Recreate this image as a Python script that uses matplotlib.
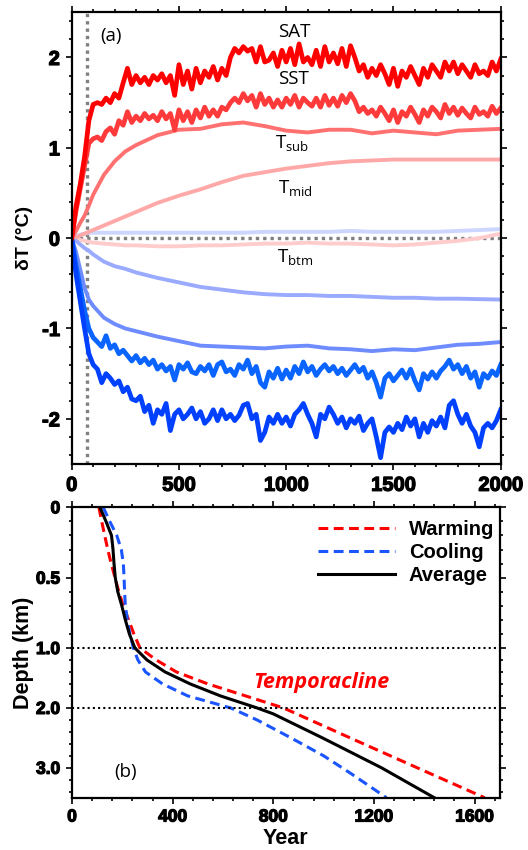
import numpy as np
import matplotlib
matplotlib.use("Agg")
import matplotlib.pyplot as plt
import matplotlib.patheffects as pe
from matplotlib.ticker import MultipleLocator, FixedLocator

plt.rcParams['font.family'] = ['Liberation Sans', 'DejaVu Sans']

# ---------------- data: panel (a) ----------------
years = list(range(0, 2001, 20))
years_s = [0, 20, 40, 60, 80, 100, 150, 200, 250, 300, 400, 500, 600, 700, 800,
           900, 1000, 1100, 1200, 1300, 1400, 1500, 1600, 1700, 1800, 1900, 2000]

sat_warm = [0, 0.35, 0.6, 0.9, 1.3, 1.48, 1.5, 1.48, 1.55, 1.5, 1.6, 1.55, 1.72, 1.88, 1.7,
            1.8, 1.72, 1.78, 1.7, 1.8, 1.75, 1.82, 1.72, 1.8, 1.58, 1.92, 1.7, 1.85, 1.65,
            1.88, 1.72, 1.85, 1.78, 1.9, 1.75, 1.88, 1.8, 2.0, 2.1, 2.05, 2.12, 2.07, 2.1,
            1.95, 2.12, 1.95, 1.97, 2.05, 1.9, 2.08, 1.95, 2.1, 1.92, 2.15, 1.95, 2.0, 1.92,
            2.08, 1.9, 2.12, 1.95, 2.05, 1.93, 2.1, 1.9, 2.13, 2.0, 1.85, 1.92, 1.78, 1.88,
            1.8, 1.92, 1.82, 1.7, 1.88, 1.68, 1.85, 1.78, 1.9, 1.8, 1.7, 1.88, 1.78, 1.92,
            1.85, 1.78, 1.95, 1.85, 1.95, 1.82, 1.92, 1.85, 1.78, 1.92, 1.82, 1.85, 1.8,
            1.95, 1.85, 1.98]
sst_warm = [0, 0.3, 0.55, 0.8, 1.05, 1.1, 1.12, 1.08, 1.18, 1.22, 1.15, 1.3, 1.25, 1.4, 1.28,
            1.35, 1.3, 1.38, 1.32, 1.36, 1.3, 1.4, 1.32, 1.38, 1.2, 1.42, 1.3, 1.4, 1.28,
            1.42, 1.33, 1.45, 1.35, 1.42, 1.35, 1.45, 1.42, 1.5, 1.55, 1.5, 1.6, 1.52, 1.58,
            1.45, 1.6, 1.48, 1.55, 1.45, 1.53, 1.45, 1.55, 1.48, 1.58, 1.45, 1.55, 1.5, 1.46,
            1.55, 1.45, 1.58, 1.47, 1.55, 1.46, 1.58, 1.5, 1.6, 1.52, 1.4, 1.45, 1.38, 1.42,
            1.35, 1.45, 1.38, 1.3, 1.42, 1.28, 1.4, 1.35, 1.45, 1.37, 1.28, 1.42, 1.35, 1.45,
            1.4, 1.33, 1.48, 1.38, 1.45, 1.36, 1.44, 1.38, 1.33, 1.45, 1.37, 1.4, 1.35, 1.46,
            1.38, 1.44]
sst_cool = [0, -0.3, -0.55, -0.8, -1.0, -1.1, -1.15, -1.2, -1.08, -1.22, -1.18, -1.28, -1.24,
            -1.3, -1.36, -1.3, -1.38, -1.33, -1.4, -1.35, -1.45, -1.4, -1.47, -1.42, -1.57,
            -1.4, -1.45, -1.38, -1.48, -1.5, -1.42, -1.47, -1.4, -1.52, -1.4, -1.37, -1.48,
            -1.45, -1.52, -1.4, -1.45, -1.35, -1.5, -1.42, -1.6, -1.65, -1.48, -1.55, -1.44,
            -1.56, -1.46, -1.55, -1.42, -1.5, -1.37, -1.48, -1.42, -1.52, -1.45, -1.4, -1.47,
            -1.42, -1.5, -1.44, -1.52, -1.46, -1.4, -1.48, -1.43, -1.55, -1.48, -1.6, -1.76,
            -1.55, -1.5, -1.58, -1.52, -1.46, -1.55, -1.45, -1.58, -1.68, -1.5, -1.56, -1.48,
            -1.55, -1.47, -1.42, -1.35, -1.45, -1.4, -1.5, -1.42, -1.55, -1.48, -1.65, -1.5,
            -1.55, -1.47, -1.52, -1.4]
sat_cool = [0, -0.4, -0.7, -1.0, -1.28, -1.4, -1.45, -1.6, -1.5, -1.55, -1.62, -1.58, -1.7,
            -1.65, -1.78, -1.8, -1.75, -1.92, -1.85, -2.05, -1.9, -1.95, -1.83, -2.13, -1.95,
            -1.9, -2.0, -1.95, -1.88, -2.0, -1.92, -2.05, -2.0, -1.9, -2.02, -1.9, -2.0, -1.95,
            -2.02, -1.96, -1.85, -1.83, -2.0, -1.95, -2.24, -2.15, -1.98, -2.05, -1.95, -2.05,
            -1.98, -2.08, -1.95, -1.9, -1.83, -1.95, -2.05, -2.2, -1.95, -2.0, -1.87, -1.95,
            -2.05, -1.98, -2.1, -2.0, -2.05, -1.97, -2.13, -2.05, -2.0, -2.2, -2.43, -2.15,
            -2.09, -2.15, -2.05, -2.12, -1.98, -2.08, -2.0, -2.2, -2.05, -2.15, -2.02, -2.08,
            -1.98, -2.1, -1.85, -1.8, -1.95, -2.05, -1.95, -2.08, -2.15, -2.31, -2.1, -2.05,
            -2.1, -2.02, -1.9]

tsub_warm = [0, 0.08, 0.17, 0.25, 0.36, 0.48, 0.7, 0.85, 0.96, 1.03, 1.14, 1.2, 1.21, 1.26, 1.28,
             1.24, 1.19, 1.17, 1.2, 1.2, 1.16, 1.19, 1.17, 1.15, 1.19, 1.2, 1.21]
tmid_warm = [0, 0.01, 0.03, 0.05, 0.07, 0.09, 0.14, 0.19, 0.24, 0.29, 0.39, 0.47, 0.54, 0.62,
             0.69, 0.73, 0.77, 0.8, 0.83, 0.85, 0.86, 0.87, 0.87, 0.87, 0.87, 0.87, 0.87]
tbtm_warm = [0, -0.01, -0.02, -0.03, -0.04, -0.05, -0.06, -0.07, -0.08, -0.08, -0.09, -0.09,
             -0.08, -0.08, -0.07, -0.06, -0.06, -0.05, -0.06, -0.06, -0.07, -0.08, -0.07,
             -0.05, -0.03, 0.0, 0.05]
tbtm_cool = [0, 0.02, 0.04, 0.05, 0.06, 0.06, 0.06, 0.06, 0.06, 0.06, 0.06, 0.06, 0.06, 0.06,
             0.06, 0.07, 0.07, 0.07, 0.07, 0.08, 0.07, 0.07, 0.07, 0.07, 0.08, 0.09, 0.1]
tmid_cool = [0, -0.03, -0.07, -0.11, -0.14, -0.18, -0.26, -0.31, -0.34, -0.38, -0.44, -0.49,
             -0.54, -0.57, -0.6, -0.62, -0.63, -0.63, -0.64, -0.64, -0.65, -0.66, -0.66, -0.67,
             -0.67, -0.675, -0.68]
tsub_cool = [0, -0.15, -0.35, -0.55, -0.68, -0.75, -0.88, -0.95, -1.0, -1.03, -1.09, -1.14,
             -1.19, -1.2, -1.21, -1.22, -1.2, -1.19, -1.22, -1.23, -1.25, -1.23, -1.24, -1.21,
             -1.18, -1.17, -1.15]

spinup_year = 72
a_labels = ["SAT", "SST", "T$_\\mathregular{sub}$", "T$_\\mathregular{mid}$", "T$_\\mathregular{btm}$"]
a_label_pos = [(960, 2.28), (960, 1.76), (950, 1.04), (960, 0.55), (955, -0.22)]

# ---------------- data: panel (b) ----------------
depth_w = [0, 0.1, 0.2, 0.3, 0.4, 0.5, 0.6, 0.7, 0.8, 0.9, 1.0, 1.2, 1.4, 1.6, 1.8, 2.0, 2.5, 3.0, 3.5]
year_w = [107, 118, 130, 142, 156, 171, 186, 204, 225, 246, 270, 335, 415, 540, 690, 840, 1105, 1372, 1640]
depth_c = [0, 0.1, 0.2, 0.3, 0.4, 0.5, 0.6, 0.7, 0.8, 0.9, 1.0, 1.2, 1.4, 1.6, 1.8, 2.0, 2.2, 2.5, 2.8, 3.1, 3.5]
year_c = [124, 150, 178, 196, 204, 207, 209, 212, 220, 230, 244, 262, 292, 360, 460, 630, 735, 870, 1000, 1110, 1250]
depth_a = [0, 0.1, 0.2, 0.3, 0.4, 0.5, 0.6, 0.7, 0.8, 0.9, 1.0, 1.2, 1.4, 1.6, 1.8, 2.0, 2.1, 2.5, 3.0, 3.5]
year_a = [111, 135, 157, 163, 167, 172, 182, 198, 212, 228, 250, 298, 370, 470, 590, 735, 800, 995, 1230, 1440]

# ---------------- figure ----------------
W, H = 528, 850
fig = plt.figure(figsize=(W / 100, H / 100), dpi=100)

def rect(l, t, r, b):
    return [l / W, 1 - b / H, (r - l) / W, (b - t) / H]

ax = fig.add_axes(rect(71.7, 12.3, 500.7, 464))
bx = fig.add_axes(rect(72, 507.3, 499.7, 797.7))

heavy = [pe.withStroke(linewidth=0.9, foreground='black')]
tick_a = dict(family='Liberation Sans', weight='bold', size=14.5)
tick_b = dict(family='Liberation Sans', weight='bold', size=12.5)

# panel (a) lines (light first)
ax.plot(years_s, tbtm_cool, color='#ccd6ff', lw=2.8, solid_capstyle='round')
ax.plot(years_s, tbtm_warm, color='#ffcccc', lw=2.8, solid_capstyle='round')
ax.plot(years_s, tmid_cool, color='#99aaff', lw=2.8, solid_capstyle='round')
ax.plot(years_s, tmid_warm, color='#ffa8a8', lw=2.8, solid_capstyle='round')
ax.plot(years_s, tsub_cool, color='#6f8cff', lw=2.8, solid_capstyle='round')
ax.plot(years_s, tsub_warm, color='#ff7070', lw=2.8, solid_capstyle='round')
ax.plot(years, sst_cool, color='#0a64ff', lw=3.4)
ax.plot(years, sst_warm, color='#ff3a3a', lw=3.4)
ax.plot(years, sat_cool, color='#0040ff', lw=3.4)
ax.plot(years, sat_warm, color='#ff0000', lw=3.4)

ax.axvline(spinup_year, color='#808080', lw=2.4, ls=(0, (1, 1.2)), zorder=0.5)
ax.axhline(0, color='#808080', lw=2.4, ls=(0, (1, 1.2)), zorder=0.5)

ax.set_xlim(0, 2000)
ax.set_ylim(-2.5, 2.5)
ax.xaxis.set_minor_locator(MultipleLocator(100))
ax.yaxis.set_minor_locator(MultipleLocator(0.2))
ax.set_xticks([0, 500, 1000, 1500, 2000])
ax.set_xticklabels(['0', '500', '1000', '1500', '2000'], **tick_a)
ax.set_yticks([-2, -1, 0, 1, 2])
ax.set_yticklabels(['-2', '-1', '0', '1', '2'], **tick_a)
ax.set_ylabel('δT (°C)', fontsize=14, fontweight='bold')
ax.yaxis.set_label_coords(-0.091, 0.5)
ax.text(0.066, 0.968, '(a)', transform=ax.transAxes, fontsize=13.5, family='Open Sans',
        ha='left', va='top')
for lab, (xx, yy) in zip(a_labels, a_label_pos):
    ax.text(xx, yy, lab, fontsize=13.5, family='Open Sans', ha='left', va='center')

# panel (b)
def fwd(d):
    d = np.asarray(d, dtype=float)
    return np.where(d <= 1, 2.35 * d, 2.35 + (d - 1))

def inv(f):
    f = np.asarray(f, dtype=float)
    return np.where(f <= 2.35, f / 2.35, 1 + (f - 2.35))

bx.set_yscale('function', functions=(fwd, inv))
bx.plot(year_w, depth_w, color='#ff0000', lw=2.2, ls=(0, (3.2, 1.8)), label='Warming')
bx.plot(year_c, depth_c, color='#1a55ff', lw=2.2, ls=(0, (3.2, 1.8)), label='Cooling')
bx.plot(year_a, depth_a, color='black', lw=2.2, label='Average')
bx.axhline(1.0, color='black', lw=1.5, ls=(0, (1, 1.5)))
bx.axhline(2.0, color='black', lw=1.5, ls=(0, (1, 1.5)))

bx.set_xlim(0, 1700)
bx.set_ylim(3.5, 0)
bx.set_xticks([0, 400, 800, 1200, 1600])
bx.set_xticklabels(['0', '400', '800', '1200', '1600'], **tick_b)
bx.xaxis.set_minor_locator(MultipleLocator(80))
bx.set_yticks([0, 0.5, 1.0, 2.0, 3.0])
bx.set_yticklabels(['0', '0.5', '1.0', '2.0', '3.0'], **tick_b)
minor_y = [0.1, 0.2, 0.3, 0.4, 0.6, 0.7, 0.8, 0.9, 1.2, 1.4, 1.6, 1.8, 2.2, 2.4, 2.6, 2.8, 3.2, 3.4]
bx.yaxis.set_minor_locator(FixedLocator(minor_y))
bx.set_xlabel('Year', fontsize=15.5, fontweight='bold')
bx.xaxis.set_label_coords(0.5, -0.105)
bx.set_ylabel('Depth (km)', fontsize=15.5, fontweight='bold')
bx.yaxis.set_label_coords(-0.088, 0.5)
bx.text(0.098, 0.09, '(b)', transform=bx.transAxes, fontsize=13.5, family='Open Sans',
        ha='left', va='center')
bx.text(990, 1.58, 'Temporacline', color='#ff0000', fontsize=15.5, family='Open Sans',
        style='italic', weight='bold', ha='center', va='center')

leg = bx.legend(loc='upper left', bbox_to_anchor=(0.552, 0.99), frameon=False,
                handlelength=3.8, handletextpad=0.7, labelspacing=0.2, borderpad=0,
                prop=dict(family='Liberation Sans', weight='bold', size=14.5))

for t in ax.get_xticklabels() + ax.get_yticklabels() + bx.get_xticklabels() + bx.get_yticklabels():
    t.set_path_effects(heavy)

for a in (ax, bx):
    for s in a.spines.values():
        s.set_linewidth(1.6)
    a.tick_params(which='both', direction='out', top=True, right=True, width=1.2)
    a.tick_params(which='major', length=4.5, pad=4)
    a.tick_params(which='minor', length=2.5)

fig.savefig('out.png', dpi=100)
